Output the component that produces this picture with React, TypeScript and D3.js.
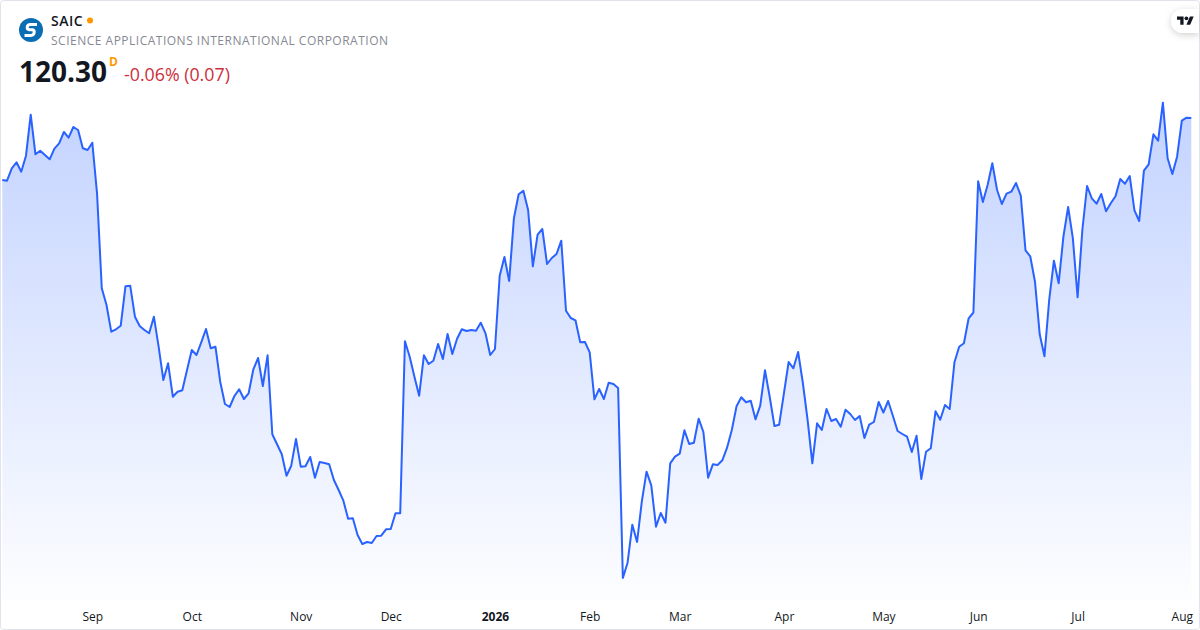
import { useEffect, useRef } from "react";
import * as d3 from "d3";

const symbol = "SAIC";
const companyName = "SCIENCE APPLICATIONS INTERNATIONAL CORPORATION";
const lastPrice = "120.30";
const priceChange = "-0.06% (0.07)";

const monthLabels = ["Sep", "Oct", "Nov", "Dec", "2026", "Feb", "Mar", "Apr", "May", "Jun", "Jul", "Aug"];
// index of the first session of each month in closes
const monthStarts = [19, 40, 63, 82, 104, 124, 143, 165, 186, 206, 227, 249];

// daily closes
const closes = [
	114.1, 114.03, 115.27, 115.87, 114.93, 116.53, 120.63, 116.67, 117.03, 116.6,
	116.17, 117.23, 117.77, 118.9, 118.33, 119.4, 119.1, 117.27, 117.1, 117.83,
	112.77, 103.27, 101.6, 98.93, 99.17, 99.53, 103.47, 103.53, 100.43, 99.5,
	99.1, 98.77, 100.43, 97.43, 94.1, 95.77, 92.43, 92.93, 93.07, 95.1,
	97.1, 96.6, 97.87, 99.2, 97.27, 97.43, 93.93, 91.7, 91.4, 92.5,
	93.17, 92.2, 92.77, 95.17, 96.3, 93.5, 96.57, 88.67, 87.67, 86.67,
	84.53, 85.53, 88.2, 85.43, 85.47, 86.4, 84.33, 85.9, 85.8, 85.67,
	84.1, 83.1, 82.03, 80.23, 80.27, 78.6, 77.7, 77.9, 77.8, 78.5,
	78.53, 79.17, 79.2, 80.77, 80.77, 97.97, 96.43, 94.43, 92.53, 96.57,
	95.7, 96.03, 97.7, 96.2, 98.7, 96.7, 98.23, 99.17, 99, 99.1,
	99.03, 99.83, 98.77, 96.6, 97.2, 104.53, 106.4, 104, 110.27, 112.67,
	113.03, 111.1, 105.47, 108.63, 109.2, 105.7, 106.3, 106.7, 108.03, 101.03,
	100.3, 100.07, 97.87, 97.9, 96.87, 92.17, 93.2, 92.2, 93.83, 93.7,
	93.3, 74.3, 75.83, 79.63, 77.9, 81.93, 84.93, 83.57, 79.43, 80.8,
	79.83, 85.77, 86.43, 86.73, 89.07, 87.7, 87.83, 90.23, 88.9, 84.33,
	85.67, 85.6, 86.07, 87.33, 89.1, 91.47, 92.37, 91.87, 92.03, 90.17,
	91.53, 95.07, 92.43, 89.5, 89.63, 92.77, 95.9, 95.27, 96.9, 93.8,
	90.1, 85.77, 89.77, 89.1, 91.2, 90, 90.2, 89.43, 91.13, 90.7,
	90.1, 90.5, 88.3, 89.63, 89.9, 91.9, 90.85, 92, 90.53, 89,
	88.7, 88.43, 86.9, 88.53, 84.2, 86.93, 87.27, 90.97, 90.13, 91.6,
	91.2, 95.87, 97.43, 97.77, 100.27, 100.85, 113.97, 111.9, 113.6, 115.77,
	113.1, 111.7, 112.73, 112.93, 113.8, 112.53, 107.07, 106.47, 103.93, 98.67,
	96.47, 102.1, 106.03, 103.77, 108.43, 111.4, 108.27, 102.37, 109.1, 113.5,
	112.27, 111.73, 112.7, 110.97, 111.77, 112.47, 114.2, 113.73, 114.5, 111.07,
	110, 115.03, 115.67, 118.67, 118.03, 121.83, 116.27, 114.7, 116.43, 120.03,
	120.33, 120.3,
];

const WIDTH = 1200;
const HEIGHT = 630;
const font = "'Open Sans', sans-serif";

const App = () => {
	const svgRef = useRef<SVGSVGElement>(null);

	useEffect(() => {
		if (!svgRef.current) return;

		const svg = d3.select(svgRef.current);
		svg.selectAll("*").remove();

		const x = d3.scaleLinear().domain([0, closes.length - 1]).range([2.3, 1191.3]);
		const y = d3.scaleLinear().domain([132.1, 69.1]).range([0, HEIGHT]);
		const baseline = 600;

		const defs = svg.append("defs");
		const gradient = defs
			.append("linearGradient")
			.attr("id", "areaFill")
			.attr("gradientUnits", "userSpaceOnUse")
			.attr("x1", 0)
			.attr("x2", 0)
			.attr("y1", y(d3.max(closes)!))
			.attr("y2", baseline);
		gradient.append("stop").attr("offset", 0).attr("stop-color", "#2962ff").attr("stop-opacity", 0.28);
		gradient.append("stop").attr("offset", 1).attr("stop-color", "#2962ff").attr("stop-opacity", 0.01);

		const shadow = defs
			.append("filter")
			.attr("id", "pillShadow")
			.attr("x", "-40%")
			.attr("y", "-40%")
			.attr("width", "180%")
			.attr("height", "200%");
		shadow
			.append("feDropShadow")
			.attr("dx", 0)
			.attr("dy", 2)
			.attr("stdDeviation", 3.5)
			.attr("flood-color", "#000")
			.attr("flood-opacity", 0.18);

		// Page background and frame
		svg
			.append("rect")
			.attr("x", 0.5)
			.attr("y", 0.5)
			.attr("width", WIDTH - 1)
			.attr("height", HEIGHT - 1)
			.attr("rx", 3)
			.attr("fill", "#fff")
			.attr("stroke", "#e0e3eb");

		// Area under the line
		const area = d3
			.area<number>()
			.x((_, i) => x(i))
			.y0(baseline)
			.y1((d) => y(d));
		svg.append("path").attr("d", area(closes)!).attr("fill", "url(#areaFill)");

		// Price line
		const line = d3
			.line<number>()
			.x((_, i) => x(i))
			.y((d) => y(d));
		svg
			.append("path")
			.attr("d", line(closes)!)
			.attr("fill", "none")
			.attr("stroke", "#2962ff")
			.attr("stroke-width", 2)
			.attr("stroke-linejoin", "round");

		// Month axis
		const axis = d3
			.axisBottom(x)
			.tickValues(monthStarts)
			.tickSize(0)
			.tickPadding(6)
			.tickFormat((_, i) => monthLabels[i]);
		const axisG = svg.append("g").attr("transform", "translate(0,606)").call(axis);
		axisG.select(".domain").remove();
		axisG
			.selectAll<SVGTextElement, number>("text")
			.attr("fill", "#131722")
			.style("font-family", font)
			.style("font-size", "12px")
			.style("font-weight", (_, i) => (monthLabels[i] === "2026" ? 700 : 400));

		// Symbol header
		svg.append("circle").attr("cx", 31).attr("cy", 30).attr("r", 12).attr("fill", "#0b6db3");
		svg
			.append("path")
			.attr("d", "M37 24.5H30.5Q27.5 24.5 27.2 27.2Q27 29.5 29.5 29.8H32.5Q34.5 30.2 34.2 32.4Q33.8 35.5 31 35.5H24.5")
			.attr("fill", "none")
			.attr("stroke", "#fff")
			.attr("stroke-width", 3);

		svg
			.append("text")
			.attr("x", 51)
			.attr("y", 26)
			.attr("fill", "#131722")
			.style("font-family", font)
			.style("font-size", "14px")
			.style("font-weight", 600)
			.style("letter-spacing", "0.5px")
			.text(symbol);
		svg.append("circle").attr("cx", 90).attr("cy", 20.5).attr("r", 3).attr("fill", "#ff9800");
		svg
			.append("text")
			.attr("x", 51)
			.attr("y", 45)
			.attr("fill", "#868993")
			.style("font-family", font)
			.style("font-size", "12px")
			.style("letter-spacing", "0.5px")
			.text(companyName);
		svg
			.append("text")
			.attr("x", 19)
			.attr("y", 82)
			.attr("fill", "#131722")
			.style("font-family", font)
			.style("font-size", "28px")
			.style("font-weight", 700)
			.text(lastPrice);
		svg
			.append("text")
			.attr("x", 109)
			.attr("y", 66)
			.attr("fill", "#ff9800")
			.style("font-family", font)
			.style("font-size", "12px")
			.style("font-weight", 700)
			.text("D");
		svg
			.append("text")
			.attr("x", 124)
			.attr("y", 81)
			.attr("fill", "#cc2f3c")
			.style("font-family", font)
			.style("font-size", "17.8px")
			.text(priceChange);

		// TradingView badge
		svg
			.append("path")
			.attr("d", "M1199 9H1183A12 12 0 0 0 1183 33H1199Z")
			.attr("fill", "#fff")
			.attr("filter", "url(#pillShadow)");
		const logo = svg.append("g").attr("transform", "translate(1177,14.5) scale(0.47)").attr("fill", "#131722");
		logo.append("path").attr("d", "M14 22H7V11H0V4h14v18zM28 22h-8l7.5-18h8L28 22z");
		logo.append("circle").attr("cx", 20).attr("cy", 8).attr("r", 4);
	}, []);

	return (
		<svg
			ref={svgRef}
			width={WIDTH}
			height={HEIGHT}
			style={{ position: "absolute", left: 0, top: 0 }}
		/>
	);
};

export default App;
